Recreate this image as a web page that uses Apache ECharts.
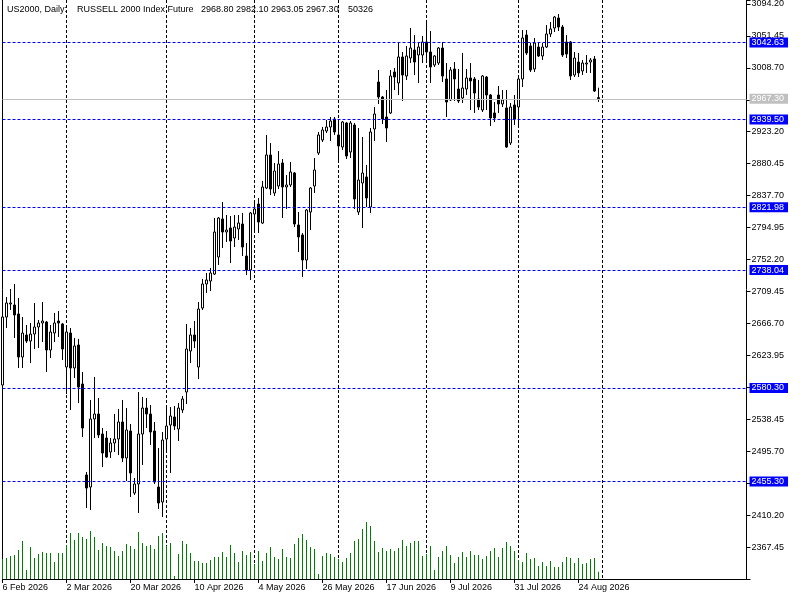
<!DOCTYPE html>
<html><head><meta charset="utf-8">
<script src="https://cdn.jsdelivr.net/npm/echarts@6/dist/echarts.min.js"></script>
<style>html,body{margin:0;padding:0;background:#fff;}#c{width:800px;height:600px;}</style>
</head><body><div id="c"></div>
<script>
const opens=[2584.28,2675.27,2692.67,2691.33,2679.29,2621.75,2651.19,2643.16,2652.53,2661.89,
2667.24,2668.58,2631.12,2653.86,2669.92,2665.91,2608.37,2653.86,2607.03,2637.81,
2585.62,2463.85,2447.80,2538.79,2545.48,2518.72,2513.36,2494.63,2506.67,2512.02,
2534.77,2486.60,2522.73,2439.77,2451.81,2518.72,2553.51,2545.48,2522.73,2447.80,
2427.72,2512.02,2530.76,2541.46,2525.41,2550.83,2574.92,2629.78,2651.19,2608.37,
2687.32,2719.43,2723.44,2732.81,2755.56,2806.41,2789.01,2794.36,2780.98,2793.03,
2799.72,2756.90,2738.16,2813.10,2826.48,2801.05,2847.89,2892.04,2841.20,2850.56,
2881.34,2849.23,2851.90,2867.96,2798.38,2785.00,2751.54,2815.77,2850.56,2894.72,
2912.12,2924.16,2929.51,2940.22,2918.81,2902.75,2934.86,2896.06,2932.19,2815.77,
2854.58,2862.61,2822.46,2926.84,2989.73,2969.65,2942.89,2948.25,3003.11,2988.39,
3023.18,2997.75,3021.84,3032.55,3025.85,3025.85,3043.25,3029.87,3012.47,3015.15,
3035.22,2993.74,2965.64,3007.12,2980.36,2968.32,2980.36,2995.08,2993.74,2966.98,
2952.26,2996.42,2972.33,2948.25,2972.33,2960.29,2954.94,2908.10,2958.95,2956.27,
2993.74,3052.62,3037.90,3007.12,3036.56,3024.52,3036.56,3053.95,3061.98,3075.36,
3063.32,3043.25,3043.25,2999.09,3016.49,3004.45,3013.81,3016.49,3020.50,2968.80];
const highs=[2679.29,2702.03,2712.74,2719.43,2700.70,2675.27,2664.57,2667.24,2694.01,2671.26,
2695.34,2669.92,2664.57,2680.63,2683.30,2667.24,2661.89,2660.55,2647.17,2645.83,
2601.68,2467.87,2564.21,2594.99,2566.89,2526.74,2522.73,2513.36,2545.48,2552.17,
2564.21,2553.51,2532.10,2459.84,2574.92,2568.22,2566.89,2557.52,2534.77,2499.98,
2521.39,2557.52,2554.84,2556.18,2560.20,2569.56,2665.91,2660.55,2669.92,2695.34,
2726.12,2734.15,2740.84,2807.74,2809.08,2829.15,2811.76,2810.42,2811.76,2811.76,
2814.44,2774.29,2815.77,2831.83,2834.51,2857.25,2918.81,2908.10,2881.34,2897.40,
2886.69,2865.28,2882.68,2869.30,2815.77,2787.67,2819.79,2849.23,2888.03,2922.82,
2929.51,2938.88,2942.89,2942.89,2938.88,2937.54,2936.20,2937.54,2934.86,2928.17,
2916.13,2878.66,2928.17,2956.27,3005.78,2970.99,2979.02,3005.78,3008.46,3041.91,
3029.87,3037.90,3061.98,3052.62,3043.25,3051.28,3072.69,3057.97,3025.85,3036.56,
3043.25,3015.15,3009.80,3016.49,3007.12,3028.53,3007.12,3015.15,2996.42,2992.40,
2999.09,2997.75,2973.67,2962.96,2984.37,2979.02,2979.02,2961.63,2972.33,2995.08,
3059.31,3059.31,3041.91,3048.60,3041.91,3041.91,3066.00,3070.01,3078.04,3080.72,
3066.00,3052.62,3044.59,3029.87,3028.53,3019.16,3025.85,3021.84,3024.52,2982.10];
const lows=[2580.27,2660.55,2684.64,2647.17,2607.03,2607.03,2640.48,2613.72,2632.45,2633.79,
2641.82,2601.68,2620.41,2641.82,2648.51,2617.73,2572.24,2550.83,2593.65,2560.20,
2514.70,2419.70,2417.02,2513.36,2513.36,2474.56,2486.60,2486.60,2494.63,2490.61,
2481.25,2455.82,2434.41,2437.09,2413.01,2477.23,2526.74,2504.00,2451.81,2418.36,
2407.65,2497.31,2466.53,2524.07,2509.35,2546.82,2558.86,2613.72,2633.79,2592.31,
2684.64,2707.39,2710.06,2731.47,2744.85,2767.60,2775.63,2747.53,2768.94,2778.31,
2756.90,2731.47,2724.78,2787.67,2787.67,2799.72,2846.55,2838.52,2837.18,2846.55,
2807.74,2819.79,2849.23,2795.70,2762.25,2728.80,2739.50,2791.69,2841.20,2892.04,
2909.44,2921.48,2910.78,2918.81,2882.68,2898.74,2886.69,2888.03,2819.79,2811.76,
2794.36,2822.46,2814.44,2910.78,2960.29,2933.53,2909.44,2946.91,2979.02,2972.33,
2964.30,2992.40,3015.15,2999.09,2988.39,3015.15,3019.16,2988.39,3009.80,3012.47,
2989.73,2942.89,2964.30,2964.30,2961.63,2961.63,2972.33,2952.26,2948.25,2952.26,
2949.58,2952.26,2930.85,2936.20,2948.25,2956.27,2901.41,2905.43,2932.19,2932.19,
2983.04,3025.85,3003.11,3003.11,3023.18,3019.16,3035.22,3049.94,3056.63,3057.97,
3023.18,3021.84,2992.40,2996.42,2996.42,2999.09,3001.77,3001.77,2976.35,2963.05];
const closes=[2675.27,2694.01,2694.01,2677.95,2621.75,2653.86,2643.16,2652.53,2661.89,2667.24,
2669.92,2631.12,2655.20,2667.24,2667.24,2632.45,2655.20,2607.03,2636.47,2581.61,
2526.74,2446.46,2538.79,2545.48,2517.38,2493.29,2487.94,2506.67,2512.02,2534.77,
2486.60,2524.07,2466.53,2451.81,2518.72,2553.51,2545.48,2521.39,2454.49,2426.39,
2510.69,2529.42,2542.80,2529.42,2553.51,2565.55,2632.45,2651.19,2643.16,2685.98,
2719.43,2724.78,2734.15,2789.01,2807.74,2789.01,2791.69,2776.97,2795.70,2801.05,
2768.94,2738.16,2814.44,2819.79,2802.39,2849.23,2892.04,2846.55,2870.64,2880.00,
2849.23,2851.90,2869.30,2799.72,2782.32,2751.54,2818.45,2847.89,2871.97,2918.81,
2925.50,2929.51,2937.54,2922.82,2904.09,2936.20,2890.71,2934.86,2833.17,2858.59,
2867.96,2834.51,2922.82,2946.91,2969.65,2940.22,2928.17,2997.75,2996.42,3023.18,
2999.09,3024.52,3035.22,3016.49,3036.56,3043.25,3029.87,3009.80,3024.52,3035.22,
2997.75,2962.96,3005.78,2993.74,2964.30,2981.70,2995.08,2991.06,2975.01,2956.27,
2997.75,2972.33,2941.55,2941.55,2960.29,2965.64,2902.75,2956.27,2940.22,2993.74,
3048.60,3028.53,3005.78,3041.91,3024.52,3036.56,3053.95,3060.65,3076.70,3063.32,
3025.85,3027.19,2997.75,3021.84,3001.77,3015.15,3015.15,3019.16,2977.68,2967.30];
const volumes=[138400,145100,158900,165200,200300,262500,62400,220600,144800,172900,
186100,179800,179300,117600,179500,180100,234900,317800,269300,317200,
290100,276400,331500,289600,200600,248700,227900,220900,193400,158600,
193100,241800,228200,207300,324600,248300,227600,234700,206900,296800,
317600,228000,248500,20900,172600,262300,241400,179200,124500,124100,
110600,110300,131400,151900,151600,186500,152100,234800,179700,117400,
193300,165800,186200,103700,193600,124300,179600,220700,151700,138200,
207100,152000,145000,241600,283100,310700,269000,221000,207200,34600,
158800,179100,172700,151800,138300,117500,144900,179900,262100,276200,
345200,393500,365900,262400,186400,214100,193500,207000,193200,213800,
269200,227800,248600,262600,262000,158700,172800,228100,62200,151500,
193700,227500,165500,110500,152200,186000,151400,193800,165700,165300,
138100,159000,193000,214000,152300,213900,255600,227700,193100,131300,
117700,179400,138500,145200,89800,117300,89600,124400,82900,82700,
117200,152000,144700,110700,145300,103600,110400,138000,145100,50326];

const blueLevels=[3042.63,2939.50,2821.98,2738.04,2580.30,2455.30];
const lastPrice=2967.30;
const priceMin=2324.70, priceMax=3099.45, priceStep=42.75;
const volumeMax=4000000;
const titleParts=['US2000, Daily:','RUSSELL 2000 Index Future','2968.80 2982.10 2963.05 2967.30','50326'];
const firstDay='2026-02-06';
const extraSessionDays=['2026-03-08','2026-03-15','2026-03-22'];
const totalSlots=187;
const monthNames=['Jan','Feb','Mar','Apr','May','Jun','Jul','Aug','Sep','Oct','Nov','Dec'];

function buildDates(){
  const out=[];const p=firstDay.split('-').map(Number);
  const d=new Date(Date.UTC(p[0],p[1]-1,p[2]));
  while(out.length<totalSlots){
    const s=d.toISOString().slice(0,10);const wd=d.getUTCDay();
    if((wd>=1&&wd<=5)||extraSessionDays.indexOf(s)>=0) out.push(s);
    d.setUTCDate(d.getUTCDate()+1);
  }
  return out;
}
const dates=buildDates();
const nBars=opens.length;
const FONT='"Liberation Sans", Arial, sans-serif';
function fmtDate(s){const p=s.split('-');return parseInt(p[2],10)+' '+monthNames[parseInt(p[1],10)-1]+' '+p[0];}
const labelAt=(idx)=>idx%16===0&&idx<nBars;
const monthStart=(idx)=>idx>0&&idx<=nBars&&dates[idx].slice(5,7)!==dates[idx-1].slice(5,7);

const chart=echarts.init(document.getElementById('c'),null,{renderer:'canvas'});
const candleData=opens.map((o,i)=>[o,closes[i],lows[i],highs[i]]);
const lvlLabel={show:true,position:'end',distance:3,color:'#fff',fontSize:9,fontFamily:FONT,
  padding:[0,4,0,2],lineHeight:10,formatter:(p)=>Number(p.value).toFixed(2)};
const markData=blueLevels.map(v=>({yAxis:v,lineStyle:{color:'#0000ff',type:[3,2],width:1},
  label:Object.assign({},lvlLabel,{backgroundColor:'#0000ff'})}));
markData.push({yAxis:lastPrice,lineStyle:{color:'#c0c0c0',type:'solid',width:1},
  label:Object.assign({},lvlLabel,{backgroundColor:'#c0c0c0'})});

const option={
  animation:false,
  backgroundColor:'#ffffff',
  textStyle:{fontFamily:FONT},
  grid:{left:2.5,right:53.5,top:0,bottom:21,containLabel:false,outerBoundsMode:'none'},
  graphic:[
    {type:'text',x:7,y:10,style:{text:titleParts[0],font:'9px '+FONT,fill:'#000',textVerticalAlign:'middle',verticalAlign:'middle'}},
    {type:'text',x:77,y:10,style:{text:titleParts[1],font:'9px '+FONT,fill:'#000',textVerticalAlign:'middle',verticalAlign:'middle'}},
    {type:'text',x:201,y:10,style:{text:titleParts[2],font:'9px '+FONT,fill:'#000',textVerticalAlign:'middle',verticalAlign:'middle'}},
    {type:'text',x:348,y:10,style:{text:titleParts[3],font:'9px '+FONT,fill:'#000',textVerticalAlign:'middle',verticalAlign:'middle'}}
  ],
  xAxis:{type:'category',data:dates,boundaryGap:false,
    axisLine:{show:true,onZero:false,lineStyle:{color:'#000',width:1}},
    axisTick:{show:true,interval:labelAt,length:4,lineStyle:{color:'#000'}},
    axisLabel:{show:true,interval:labelAt,formatter:(v)=>fmtDate(v),align:'left',margin:4,color:'#000',fontSize:9,fontFamily:FONT},
    splitLine:{show:true,interval:monthStart,lineStyle:{color:'#000',type:[3,2],width:1}}
  },
  yAxis:[
    {type:'value',position:'right',min:priceMin,max:priceMax,interval:priceStep,
      axisLine:{show:true,lineStyle:{color:'#000',width:1}},
      axisTick:{show:true,length:4,lineStyle:{color:'#000'}},
      axisLabel:{show:true,margin:5,color:'#000',fontSize:9,fontFamily:FONT,showMinLabel:true,showMaxLabel:true,
        formatter:function(v){
          const k=(v-priceMin)/priceStep;
          if(Math.abs(k-Math.round(k))>1e-4||k<0.5) return '';
          const covered=blueLevels.concat([lastPrice]).some(l=>Math.abs(l-v)<5);
          if(covered) return '';
          return v.toFixed(2);
        }},
      splitLine:{show:false}},
    {type:'value',position:'left',min:0,max:volumeMax,
      axisLine:{show:true,lineStyle:{color:'#000',width:1}},
      axisTick:{show:false},axisLabel:{show:false},splitLine:{show:false}}
  ],
  series:[
    {type:'bar',name:'Volume',xAxisIndex:0,yAxisIndex:1,data:volumes,barWidth:1,
      itemStyle:{color:'#008000'},z:1,silent:true},
    {type:'candlestick',name:'US2000',xAxisIndex:0,yAxisIndex:0,data:candleData,barWidth:2,
      itemStyle:{color:'#ffffff',color0:'#000000',borderColor:'#000000',borderColor0:'#000000',borderWidth:1},
      z:3,silent:true,
      markLine:{silent:true,symbol:['none','none'],animation:false,precision:2,data:markData}}
  ]
};
chart.setOption(option);
</script></body></html>
